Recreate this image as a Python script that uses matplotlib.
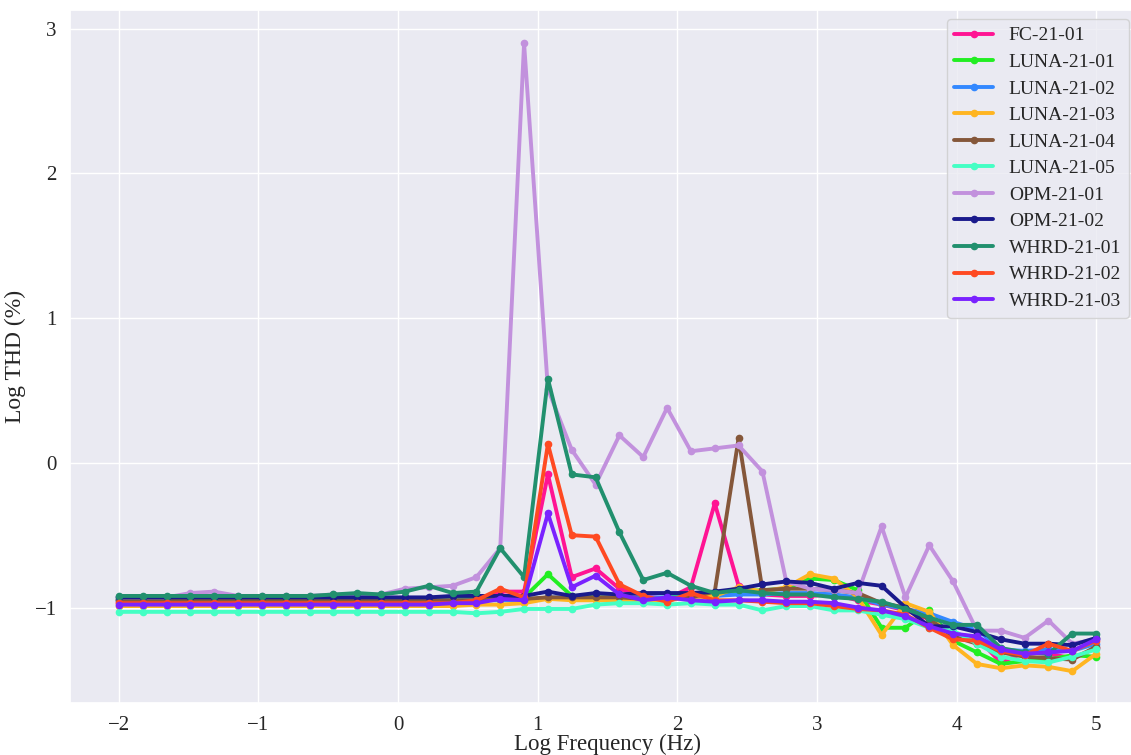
import numpy as np
import matplotlib
matplotlib.use('Agg')
import matplotlib.pyplot as plt
import seaborn as sns

# log frequency grid (42 evenly spaced points from -2 to 5)
log_freq = np.linspace(-2, 5, 42)

fc_21_01 = [-0.96, -0.96, -0.96, -0.96, -0.96, -0.96, -0.96, -0.96, -0.96, -0.96, -0.96, -0.96, -0.96, -0.96,
            -0.96, -0.95, -0.89, -0.89, -0.08, -0.79, -0.73, -0.87, -0.92, -0.94, -0.86, -0.28, -0.85, -0.91,
            -0.92, -0.92, -0.91, -0.95, -0.98, -1.02, -1.08, -1.18, -1.21, -1.38, -1.31, -1.32, -1.35, -1.28]
luna_21_01 = [-0.94, -0.94, -0.94, -0.94, -0.94, -0.94, -0.94, -0.94, -0.94, -0.94, -0.94, -0.94, -0.94, -0.94,
              -0.94, -0.94, -0.93, -0.93, -0.77, -0.92, -0.93, -0.93, -0.94, -0.93, -0.92, -0.91, -0.89, -0.88,
              -0.87, -0.80, -0.81, -0.88, -1.14, -1.14, -1.02, -1.23, -1.31, -1.39, -1.37, -1.36, -1.33, -1.34]
luna_21_02 = [-0.95, -0.95, -0.95, -0.95, -0.95, -0.95, -0.95, -0.95, -0.95, -0.95, -0.95, -0.95, -0.95, -0.95,
              -0.95, -0.95, -0.95, -0.95, -0.93, -0.93, -0.94, -0.93, -0.93, -0.93, -0.93, -0.92, -0.91, -0.91,
              -0.90, -0.90, -0.91, -0.93, -0.98, -1.01, -1.04, -1.10, -1.15, -1.29, -1.30, -1.29, -1.30, -1.25]
luna_21_03 = [-0.99, -0.99, -0.99, -0.99, -0.99, -0.99, -0.99, -0.99, -0.99, -0.99, -0.99, -0.99, -0.99, -0.99,
              -0.99, -0.98, -0.98, -0.97, -0.94, -0.95, -0.95, -0.95, -0.96, -0.95, -0.93, -0.92, -0.86, -0.89,
              -0.86, -0.77, -0.80, -0.93, -1.19, -0.97, -1.03, -1.26, -1.39, -1.42, -1.40, -1.41, -1.44, -1.32]
luna_21_04 = [-0.95, -0.95, -0.95, -0.95, -0.95, -0.95, -0.95, -0.95, -0.95, -0.95, -0.95, -0.95, -0.95, -0.95,
              -0.95, -0.95, -0.94, -0.94, -0.93, -0.93, -0.93, -0.93, -0.94, -0.94, -0.93, -0.89, 0.17, -0.88,
              -0.87, -0.87, -0.88, -0.90, -0.97, -1.00, -1.08, -1.20, -1.25, -1.31, -1.34, -1.35, -1.36, -1.27]
luna_21_05 = [-1.03, -1.03, -1.03, -1.03, -1.03, -1.03, -1.03, -1.03, -1.03, -1.03, -1.03, -1.03, -1.03, -1.03,
              -1.03, -1.04, -1.03, -1.01, -1.01, -1.01, -0.98, -0.97, -0.97, -0.98, -0.97, -0.98, -0.98, -1.02,
              -0.99, -0.99, -1.02, -1.02, -1.05, -1.08, -1.14, -1.16, -1.25, -1.34, -1.37, -1.38, -1.34, -1.29]
opm_21_01 = [-0.93, -0.93, -0.93, -0.90, -0.89, -0.92, -0.92, -0.92, -0.92, -0.91, -0.91, -0.91, -0.87, -0.86,
             -0.85, -0.79, -0.59, 2.90, 0.51, 0.09, -0.15, 0.19, 0.04, 0.38, 0.08, 0.10, 0.12, -0.06,
             -0.82, -0.87, -0.88, -0.90, -0.44, -0.93, -0.57, -0.82, -1.16, -1.16, -1.21, -1.09, -1.25, -1.22]
opm_21_02 = [-0.93, -0.93, -0.93, -0.93, -0.93, -0.93, -0.93, -0.93, -0.93, -0.93, -0.93, -0.93, -0.93, -0.93,
             -0.92, -0.92, -0.92, -0.92, -0.89, -0.92, -0.90, -0.91, -0.90, -0.90, -0.90, -0.89, -0.87, -0.84,
             -0.82, -0.83, -0.87, -0.83, -0.85, -1.00, -1.13, -1.13, -1.17, -1.22, -1.25, -1.25, -1.26, -1.21]
whrd_21_01 = [-0.92, -0.92, -0.92, -0.92, -0.92, -0.92, -0.92, -0.92, -0.92, -0.91, -0.90, -0.91, -0.89, -0.85,
              -0.90, -0.89, -0.59, -0.79, 0.58, -0.08, -0.10, -0.48, -0.81, -0.76, -0.85, -0.90, -0.88, -0.90,
              -0.91, -0.91, -0.93, -0.94, -0.96, -1.01, -1.07, -1.12, -1.12, -1.28, -1.31, -1.32, -1.18, -1.18]
whrd_21_02 = [-0.97, -0.97, -0.97, -0.97, -0.97, -0.97, -0.97, -0.97, -0.97, -0.97, -0.97, -0.97, -0.97, -0.97,
              -0.97, -0.95, -0.87, -0.93, 0.13, -0.50, -0.51, -0.84, -0.92, -0.96, -0.90, -0.95, -0.95, -0.96,
              -0.97, -0.97, -0.99, -1.01, -1.02, -1.05, -1.14, -1.22, -1.23, -1.30, -1.33, -1.25, -1.30, -1.23]
whrd_21_03 = [-0.98, -0.98, -0.98, -0.98, -0.98, -0.98, -0.98, -0.98, -0.98, -0.98, -0.98, -0.98, -0.98, -0.98,
              -0.97, -0.97, -0.94, -0.95, -0.35, -0.86, -0.78, -0.91, -0.95, -0.93, -0.95, -0.96, -0.95, -0.95,
              -0.96, -0.96, -0.97, -1.00, -1.02, -1.06, -1.13, -1.18, -1.20, -1.29, -1.32, -1.31, -1.30, -1.22]

labels = ['FC-21-01', 'LUNA-21-01', 'LUNA-21-02', 'LUNA-21-03', 'LUNA-21-04', 'LUNA-21-05',
          'OPM-21-01', 'OPM-21-02', 'WHRD-21-01', 'WHRD-21-02', 'WHRD-21-03']
series = [fc_21_01, luna_21_01, luna_21_02, luna_21_03, luna_21_04, luna_21_05,
          opm_21_01, opm_21_02, whrd_21_01, whrd_21_02, whrd_21_03]
colors = ['#ff1493', '#22ee22', '#3388ff', '#ffb521', '#85573a', '#44ffc4',
          '#c291dd', '#1a1a8c', '#21906e', '#ff4a22', '#7a22ff']

sns.set_theme(style='darkgrid')
plt.rcParams['font.family'] = ['Liberation Serif', 'DejaVu Serif']
plt.rcParams['axes.unicode_minus'] = True

fig = plt.figure(figsize=(11.31, 7.55), dpi=100)
# axes runs slightly past the right edge, like the cropped original
ax = fig.add_axes([70/1131, 52/755, 1075/1131, 693/755])

for vals, lab, col in zip(series, labels, colors):
  ax.plot(log_freq, vals, '-o', color=col, label=lab, lw=2.8, ms=4.5)

ax.set_xlim(-2.35, 5.35)
ax.set_ylim(-1.66, 3.13)
ax.set_xticks(range(-2, 6))
ax.set_yticks(range(-1, 4))
ax.tick_params(labelsize=15)
ax.set_xlabel('Log Frequency (Hz)', fontsize=16.5, labelpad=-1)
ax.set_ylabel('Log THD (%)', fontsize=17, labelpad=6)

ax.legend(loc='upper right', bbox_to_anchor=(1129/1131, 1 - 19/755),
          bbox_transform=fig.transFigure, borderaxespad=0, fontsize=14,
          labelspacing=0.46, handlelength=2.0)

plt.savefig('out.png', dpi=100)
